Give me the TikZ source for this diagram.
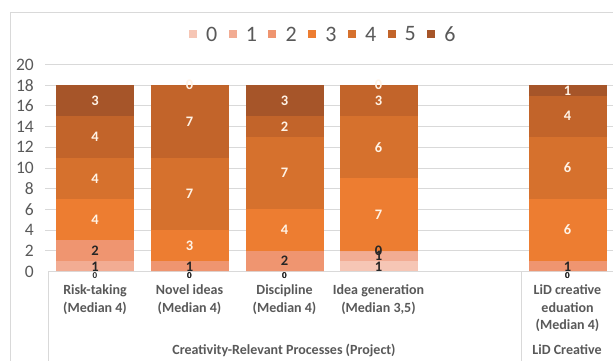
\documentclass[tikz,border=0pt]{standalone}
\usepackage{fontspec}
\setmainfont{Carlito}

% answer colours 0..6
\definecolor{lik0}{HTML}{F6C6B5}
\definecolor{lik1}{HTML}{F2AC93}
\definecolor{lik2}{HTML}{EF9570}
\definecolor{lik3}{HTML}{ED7D31}
\definecolor{lik4}{HTML}{D6712D}
\definecolor{lik5}{HTML}{C2642A}
\definecolor{lik6}{HTML}{A65529}
\definecolor{gridgray}{HTML}{D9D9D9}
\definecolor{axtext}{HTML}{595959}
\definecolor{labdark}{HTML}{262626}
\definecolor{labwhite}{HTML}{FFF3E6}

\tikzset{
  gridline/.style={gridgray, line width=0.8pt},
  seglab/.style={font=\bfseries\fontsize{14.5}{15}\selectfont, inner sep=0pt},
  zerolab/.style={font=\bfseries\fontsize{9}{9}\selectfont, inner sep=0pt},
  lab0/.style={text=labdark}, lab1/.style={text=labdark}, lab2/.style={text=labdark},
  lab3/.style={text=labwhite}, lab4/.style={text=labwhite},
  lab5/.style={text=labwhite}, lab6/.style={text=labwhite},
  catlab/.style={font=\bfseries\fontsize{14}{17.5}\selectfont, text=axtext,
    align=center, anchor=north, inner sep=0pt},
  grouplab/.style={font=\bfseries\fontsize{14}{14}\selectfont, text=axtext,
    anchor=base, inner sep=0pt},
  ticklab/.style={font=\fontsize{17.5}{17.5}\selectfont, text=axtext,
    anchor=east, inner sep=0pt},
  leglab/.style={font=\fontsize{22}{22}\selectfont, text=axtext,
    anchor=west, inner sep=0pt}
}

% value -> height on the chart
\newcommand{\vy}[1]{89.5+10.35*(#1)}

% one stacked bar: #1 name, #2 x centre, #3 counts of answers 0..6
\newcommand{\stackbar}[3]{%
  \xdef\cumval{0}
  \foreach \val [count=\k from 0] in {#3} {
    \pgfmathsetmacro{\segtop}{\cumval+\val}
    \fill[lik\k] ({#2-39},{\vy{\cumval}}) rectangle ({#2+39},{\vy{\segtop}});
    \xdef\cumval{\segtop}
  }
  \xdef\cumval{0}
  \foreach \val [count=\k from 0] in {#3} {
    \pgfmathsetmacro{\segmid}{\cumval+\val/2}
    \pgfmathsetmacro{\segtop}{\cumval+\val}
    \ifdim\segtop pt<0.01pt
      \node[zerolab, lab\k] (#1-\k) at (#2,{\vy{-0.35}}) {\val};
    \else
      \node[seglab, lab\k] (#1-\k) at (#2,{\vy{\segmid}}) {\val};
    \fi
    \xdef\cumval{\segtop}
  }
}

\begin{document}
\begin{tikzpicture}[x=1pt, y=1pt]

    % --- Canvas ---
    \useasboundingbox (0,0) rectangle (613,361);
    \fill[white] (0,0) rectangle (613,361);

    % --- Chart frame ---
    \draw[gridline] (10,0) -- (10,349) -- (613,349);

    % --- Gridlines and y labels ---
    \foreach \v in {2,4,...,20}
      \draw[gridline] (45,{\vy{\v}}) -- (613,{\vy{\v}});
    \foreach \v in {0,2,...,20}
      \node[ticklab] (tick\v) at (34,{\vy{\v}}) {\v};

    % --- Category axis ---
    \draw[gridline] (48,{\vy{0}}) -- (613,{\vy{0}});
    \draw[gridline] (48,{\vy{0}}) -- (48,0);
    \draw[gridline] (521,{\vy{0}}) -- (521,0);

    % --- Bars ---
    \stackbar{risk}{95}{0,1,2,4,4,4,3}
    \stackbar{novel}{189.5}{0,0,1,3,7,7,0}
    \stackbar{disc}{284.5}{0,0,2,4,7,2,3}
    \stackbar{idea}{378.5}{1,1,0,7,6,3,0}
    \stackbar{lid}{567.5}{0,0,1,6,6,4,1}

    % --- Category labels ---
    \node[catlab] (catrisk) at (95,76.5) {Risk-taking\\(Median 4)};
    \node[catlab] (catnovel) at (189.5,76.5) {Novel ideas\\(Median 4)};
    \node[catlab] (catdisc) at (284.5,76.5) {Discipline\\(Median 4)};
    \node[catlab] (catidea) at (378.5,76.5) {Idea generation\\(Median 3,5)};
    \node[catlab] (catlid) at (567.5,76.5) {LiD creative\\eduation\\(Median 4)};

    \node[grouplab] (grpcrp) at (284,6) {Creativity-Relevant Processes (Project)};
    \node[grouplab] (grplid) at (567,6) {LiD Creative};

    % --- Legend ---
    \foreach \k in {0,...,6} {
      \fill[lik\k] ({189+39.7*\k},323) rectangle ({197+39.7*\k},331);
      \node[leglab] (leg\k) at ({206+39.7*\k},327) {\k};
    }

\end{tikzpicture}
\end{document}
